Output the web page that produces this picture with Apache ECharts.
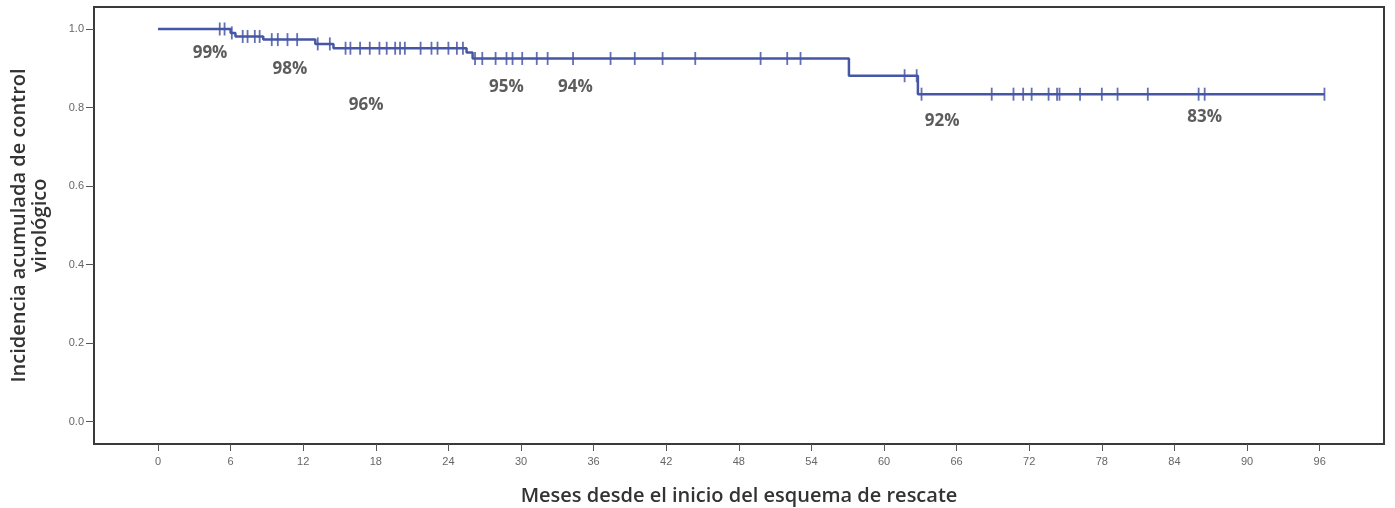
<!DOCTYPE html>
<html>
<head>
<meta charset="utf-8">
<script src="https://cdn.jsdelivr.net/npm/echarts@6/dist/echarts.min.js"></script>
<style>
  html, body { margin: 0; padding: 0; background: #fff; }
  #chart { width: 1395px; height: 508px; }
</style>
</head>
<body>
<div id="chart"></div>
<script>
// Kaplan-Meier style cumulative incidence of virological control
const eventMonths = [0, 6.0, 6.4, 8.7, 13.0, 14.5, 25.5, 26.0, 57.1, 62.8, 96.4];
const eventValues = [1.0, 0.99, 0.981, 0.973, 0.962, 0.951, 0.94, 0.925, 0.881, 0.834, 0.834];

// censored observations (months)
const censoredMonths = [
  5.1, 5.5, 6.1, 7.0, 7.4, 8.0, 8.4, 9.4, 9.9, 10.7, 11.5, 13.2,
  14.2, 15.5, 15.9, 16.7, 17.5, 18.3, 18.9, 19.6, 20.0, 20.4, 21.7, 22.6, 23.1, 24.0, 24.7, 25.2,
  26.2, 26.8, 27.9, 28.8, 29.3, 30.1, 31.3, 32.2, 34.3, 37.4, 39.4, 41.7, 44.4, 49.8, 52.0, 53.1,
  61.7, 62.7, 63.1, 68.9, 70.7, 71.5, 72.2, 73.6, 74.3, 74.5, 76.2, 78.0, 79.3, 81.8, 86.0, 86.5, 96.4
];

// annotated percentages and their anchor points (month, y)
const noteTexts = ['99%', '98%', '96%', '95%', '94%', '92%', '83%'];
const noteMonths = [4.3, 10.9, 17.2, 28.8, 34.5, 64.8, 86.5];
const noteY = [0.939, 0.898, 0.806, 0.852, 0.852, 0.766, 0.776];

const xTicks = [0, 6, 12, 18, 24, 30, 36, 42, 48, 54, 60, 66, 72, 78, 84, 90, 96];
const yTicks = [0, 0.2, 0.4, 0.6, 0.8, 1.0];

const curveColor = '#4656a6';

function valueAt(t) {
  let v = eventValues[0];
  for (let i = 0; i < eventMonths.length; i++) {
    if (eventMonths[i] <= t) v = eventValues[i];
  }
  return v;
}

const chart = echarts.init(document.getElementById('chart'));
chart.setOption({
  backgroundColor: '#fff',
  animation: false,
  grid: {
    left: 94, right: 11, top: 7, bottom: 64,
    containLabel: false, outerBoundsMode: 'none',
    show: true, borderColor: '#3a3a3a', borderWidth: 2, backgroundColor: '#fff'
  },
  xAxis: {
    type: 'value', min: -5.29, max: 101.32,
    name: 'Meses desde el inicio del esquema de rescate',
    nameLocation: 'middle', nameGap: 42,
    nameTextStyle: { fontFamily: 'Open Sans', fontSize: 20, fontWeight: 600, color: '#333' },
    axisLine: { show: false, onZero: false },
    splitLine: { show: false },
    axisTick: { show: true, customValues: xTicks, length: 7, lineStyle: { color: '#555', width: 1 } },
    axisLabel: { customValues: xTicks, color: '#666', fontSize: 11, fontFamily: 'Arial', margin: 12 }
  },
  yAxis: {
    type: 'value', min: -0.0568, max: 1.056,
    name: 'Incidencia acumulada de control\nvirológico',
    nameLocation: 'middle', nameGap: 43, nameRotate: 90,
    nameTextStyle: { fontFamily: 'Open Sans', fontSize: 20, fontWeight: 600, color: '#333', lineHeight: 21, align: 'center' },
    axisLine: { show: false, onZero: false },
    splitLine: { show: false },
    axisTick: { show: true, customValues: yTicks, length: 8, lineStyle: { color: '#555', width: 1 } },
    axisLabel: {
      customValues: yTicks, color: '#666', fontSize: 11, fontFamily: 'Arial', margin: 10,
      formatter: v => v.toFixed(1)
    }
  },
  series: [
    {
      type: 'line', step: 'end', symbol: 'none',
      data: eventMonths.map((m, i) => [m, eventValues[i]]),
      lineStyle: { color: curveColor, width: 2.5 }
    },
    {
      type: 'scatter',
      symbol: 'rect', symbolSize: [1.8, 13],
      itemStyle: { color: curveColor, opacity: 0.85 },
      data: censoredMonths.map(m => [m, valueAt(m)])
    },
    {
      type: 'scatter', symbolSize: 0,
      data: noteMonths.map((m, i) => [m, noteY[i]]),
      label: {
        show: true, position: 'inside',
        formatter: p => noteTexts[p.dataIndex],
        fontFamily: 'Open Sans', fontWeight: 700, fontSize: 17, color: '#333'
      }
    }
  ]
});
</script>
</body>
</html>
